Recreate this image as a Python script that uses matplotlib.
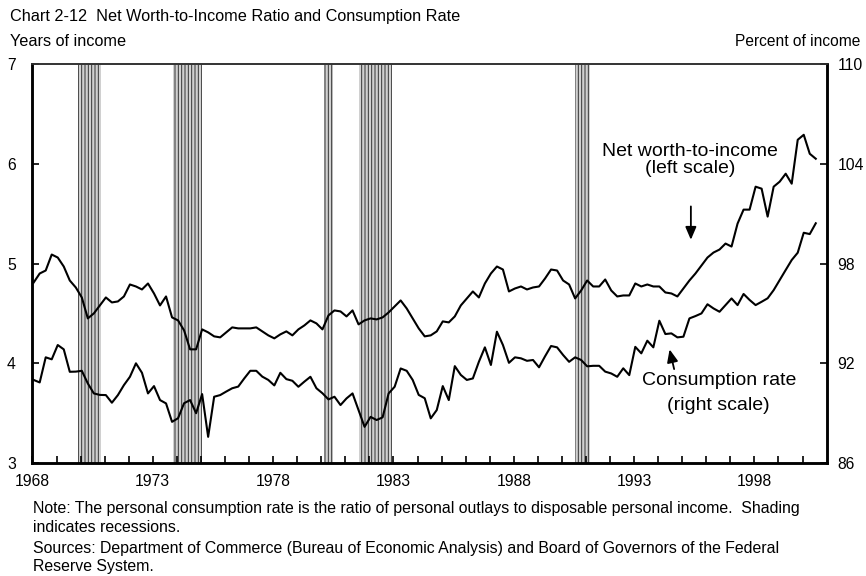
import matplotlib
matplotlib.use('Agg')
from matplotlib import pyplot as plt
import numpy as np

plt.rcParams.update({
    'font.family': ['Liberation Sans', 'DejaVu Sans'],
    'font.size': 11,
    'hatch.linewidth': 0.7,
})

# Quarterly values, first point 1968 Q1
net_worth = [
    4.81, 4.90, 4.93, 5.09, 5.06, 4.97, 4.83, 4.76, 4.66, 4.45,
    4.50, 4.58, 4.66, 4.61, 4.62, 4.67, 4.79, 4.77, 4.74, 4.80,
    4.70, 4.58, 4.67, 4.46, 4.43, 4.33, 4.14, 4.14, 4.34, 4.31,
    4.27, 4.26, 4.31, 4.36, 4.35, 4.35, 4.35, 4.36, 4.32, 4.28,
    4.25, 4.29, 4.32, 4.28, 4.34, 4.38, 4.43, 4.40, 4.34, 4.48,
    4.53, 4.52, 4.47, 4.53, 4.39, 4.43, 4.45, 4.44, 4.46, 4.51,
    4.57, 4.63, 4.55, 4.45, 4.35, 4.27, 4.28, 4.32, 4.42, 4.41,
    4.47, 4.58, 4.65, 4.72, 4.66, 4.80, 4.90, 4.97, 4.94, 4.72,
    4.75, 4.77, 4.74, 4.76, 4.77, 4.85, 4.94, 4.93, 4.83, 4.79,
    4.65, 4.73, 4.83, 4.77, 4.77, 4.84, 4.73, 4.67, 4.68, 4.68,
    4.80, 4.77, 4.79, 4.77, 4.77, 4.71, 4.70, 4.67, 4.75, 4.83,
    4.90, 4.98, 5.06, 5.11, 5.14, 5.20, 5.17, 5.40, 5.54, 5.54,
    5.77, 5.75, 5.47, 5.77, 5.82, 5.90, 5.80, 6.24, 6.29, 6.10,
    6.05,
]

consumption = [
    91.00, 90.85, 92.36, 92.24, 93.10, 92.84, 91.49, 91.50, 91.55, 90.79,
    90.19, 90.10, 90.09, 89.63, 90.09, 90.69, 91.19, 92.00, 91.43, 90.19,
    90.63, 89.79, 89.59, 88.48, 88.70, 89.60, 89.79, 89.00, 90.15, 87.58,
    89.99, 90.09, 90.30, 90.50, 90.60, 91.09, 91.55, 91.55, 91.20, 91.00,
    90.67, 91.43, 91.05, 90.95, 90.59, 90.90, 91.19, 90.50, 90.20, 89.83,
    89.99, 89.49, 89.89, 90.19, 89.19, 88.18, 88.78, 88.59, 88.75, 90.19,
    90.59, 91.69, 91.55, 91.00, 90.10, 89.90, 88.69, 89.19, 90.63, 89.79,
    91.83, 91.30, 91.00, 91.09, 92.09, 92.96, 91.90, 93.90, 93.10, 92.03,
    92.36, 92.30, 92.15, 92.20, 91.76, 92.42, 93.04, 92.96, 92.50, 92.09,
    92.36, 92.20, 91.82, 91.85, 91.85, 91.50, 91.39, 91.19, 91.70, 91.29,
    92.99, 92.60, 93.36, 92.96, 94.56, 93.76, 93.80, 93.56, 93.60, 94.70,
    94.84, 95.00, 95.55, 95.30, 95.10, 95.50, 95.90, 95.50, 96.17, 95.81,
    95.50, 95.70, 95.91, 96.40, 97.01, 97.61, 98.21, 98.65, 99.85, 99.77,
    100.42,
]

recessions = [(1969.9, 1970.85), (1973.85, 1975.05), (1980.1, 1980.5),
              (1981.55, 1982.95), (1990.55, 1991.15)]

tick_years = list(range(1968, 2001))
label_years = [1968, 1973, 1978, 1983, 1988, 1993, 1998]
left_ticks = [3, 4, 5, 6, 7]
right_ticks = [86, 92, 98, 104, 110]

fig = plt.figure(figsize=(8.66, 5.76), dpi=100)
ax = fig.add_axes([0.0375, 0.196, 0.917, 0.693])
ax2 = ax.twinx()

# points sit a little inside each quarter
t = 1968.05 + 0.25 * np.arange(len(net_worth))

for start, end in recessions:
    ax.axvspan(start, end, facecolor='#d0d0d0', edgecolor='#333333',
               hatch='|||||', linewidth=0, zorder=1)

ax.plot(t, net_worth, color='black', linewidth=1.5, zorder=3)
ax2.plot(t[:len(consumption)], consumption, color='black', linewidth=1.5, zorder=3)

ax.set_xlim(1968, 2001)
ax.set_ylim(3, 7)
ax2.set_ylim(86, 110)

ax.set_xticks(tick_years)
ax.set_xticklabels([str(y) if y in label_years else '' for y in tick_years])
ax.set_yticks(left_ticks)
ax2.set_yticks(right_ticks)

ax.tick_params(axis='x', direction='in', length=5, width=1.2, pad=8, labelsize=11.3)
ax.tick_params(axis='y', direction='in', length=5, width=1.2, pad=12, labelsize=11.3)
ax2.tick_params(axis='y', direction='in', length=5, width=1.2, pad=8, labelsize=11.3)

for a in (ax, ax2):
    for side in ('left', 'right', 'bottom'):
        a.spines[side].set_linewidth(1.8)
    a.spines['top'].set_linewidth(1.2)
    a.spines['top'].set_color('#333333')

# annotations
ax.text(1995.32, 6.12, 'Net worth-to-income', ha='center', va='center', fontsize=14)
ax.text(1995.32, 5.95, '(left scale)', ha='center', va='center', fontsize=14)
ax.annotate('', xy=(1995.36, 5.21), xytext=(1995.36, 5.60),
            arrowprops=dict(arrowstyle='-|>,head_length=0.7,head_width=0.3',
                            color='black', lw=1.3))
ax.text(1996.52, 3.83, 'Consumption rate', ha='center', va='center', fontsize=14)
ax.text(1996.52, 3.58, '(right scale)', ha='center', va='center', fontsize=14)
ax2.annotate('', xy=(1994.45, 93.0), xytext=(1994.69, 91.49),
             arrowprops=dict(arrowstyle='-|>,head_length=0.7,head_width=0.3',
                             color='black', lw=1.3))

fig.text(10 / 866, 1 - 17 / 576, 'Chart 2-12  Net Worth-to-Income Ratio and Consumption Rate',
         ha='left', va='center', fontsize=11.7)
fig.text(10 / 866, 1 - 42 / 576, 'Years of income', ha='left', va='center', fontsize=11.7)
fig.text(860 / 866, 1 - 42 / 576, 'Percent of income', ha='right', va='center', fontsize=11.2)

notes = [
    'Note: The personal consumption rate is the ratio of personal outlays to disposable personal income.  Shading',
    'indicates recessions.',
    'Sources: Department of Commerce (Bureau of Economic Analysis) and Board of Governors of the Federal',
    'Reserve System.',
]
for line, y in zip(notes, [509, 528, 548, 567]):
    fig.text(33 / 866, 1 - y / 576, line, ha='left', va='center', fontsize=11.4)

fig.savefig('out.png', dpi=100)
